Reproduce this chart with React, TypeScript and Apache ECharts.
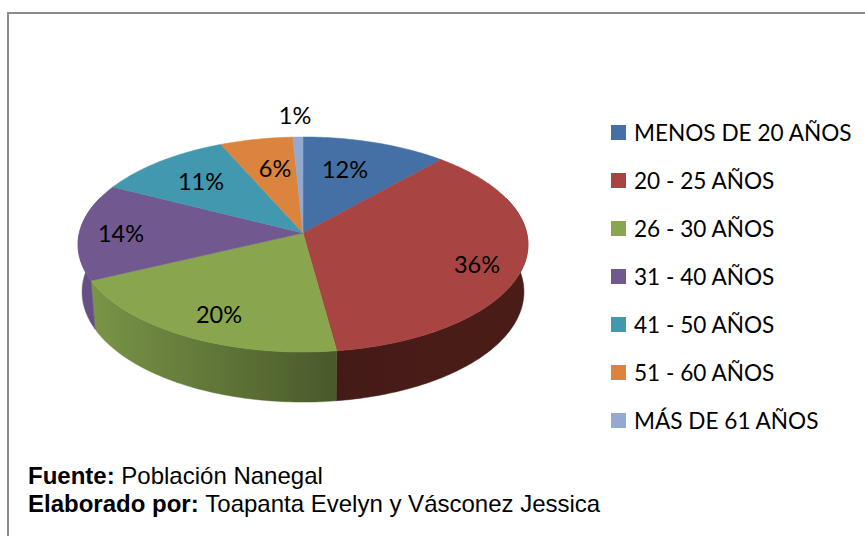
import React, { useEffect, useRef } from "react";
import * as echarts from "echarts";

const categories = ["MENOS DE 20 AÑOS", "20 - 25 AÑOS", "26 - 30 AÑOS", "31 - 40 AÑOS", "41 - 50 AÑOS", "51 - 60 AÑOS", "MÁS DE 61 AÑOS"];
const values = [11.6, 36.2, 20.1, 14.5, 10.9, 5.8, 0.8];
const percentLabels = ["12%", "36%", "20%", "14%", "11%", "6%", "1%"];
const colors = ["#4470a6", "#a84442", "#89a54e", "#71588f", "#4198af", "#db843d", "#93a9cf"];
const labelOffsets = [[42, -64], [174, 31], [-84, 81], [-182, 0], [-102, -52], [-28, -65], [-8, -118]];
const FOOT_1 = ["Fuente:", "Población Nanegal"];
const FOOT_2 = ["Elaborado por:", "Toapanta Evelyn y Vásconez Jessica"];

const total = values.reduce((a, b) => a + b, 0);
const AX = 303, AY = 233, R = 223.7, B = 106.3, K = 0.107, DEPTH = 50;

function rim(deg: number): [number, number] {
  const t = (deg * Math.PI) / 180;
  const u = Math.sin(t), v = -Math.cos(t);
  const w = 1 - K * v;
  return [AX + (R * u) / w, AY + (B * v) / w];
}
function rimLow(deg: number): [number, number] {
  const [x, y] = rim(deg);
  const v = -Math.cos((deg * Math.PI) / 180);
  return [AX + (x - AX) * 0.982, y + DEPTH - 3 + 3 * Math.max(v, 0)];
}
function bounds(i: number): [number, number] {
  const before = values.slice(0, i).reduce((a, b) => a + b, 0);
  return [(before / total) * 360, ((before + values[i]) / total) * 360];
}
function arcAngles(a: number, b: number): number[] {
  const out: number[] = [];
  const n = Math.max(2, Math.ceil(b - a));
  for (let j = 0; j <= n; j++) out.push(a + ((b - a) * j) / n);
  return out;
}

function wallFill(i: number) {
  const stops: Record<number, [string, string]> = {
    1: ["#441a17", "#4a1c18"],
    2: ["#7a9447", "#48592a"],
    3: ["#654f84", "#654f84"],
  };
  const s = stops[i] || [colors[i], colors[i]];
  const a = bounds(i);
  const x0 = Math.min(rim(a[0])[0], rim(a[1])[0]);
  const x1 = Math.max(rim(a[0])[0], rim(a[1])[0]);
  return {
    type: "linear", global: true, x: x0, y: 0, x2: x1, y2: 0,
    colorStops: [{ offset: 0, color: s[0] }, { offset: 1, color: s[1] }],
  };
}

const wallItem = (params: any) => {
  const i = params.dataIndex;
  const [a0, b0] = bounds(i);
  const a = Math.max(a0, 70), b = Math.min(b0, 290);
  if (b <= a) return { type: "group", children: [] };
  const fill = wallFill(i);
  const angles = arcAngles(a, b);
  const pts = [...angles.map(rim), ...angles.slice().reverse().map(rimLow)];
  return { type: "polygon", shape: { points: pts }, style: { fill, stroke: fill, lineWidth: 0.5 } };
};

const topItem = (i: number) => (_p: any, api: any) => {
  if (!(api.value(0) > 0)) return { type: "group", children: [] };
  const [a, b] = bounds(i);
  const pts = [[AX, AY], ...arcAngles(a, b).map(rim)];
  const [dx, dy] = labelOffsets[i];
  return {
    type: "group",
    children: [
      { type: "polygon", shape: { points: pts }, style: { fill: colors[i], stroke: colors[i], lineWidth: 0.5 } },
      {
        type: "text", z2: 10, x: AX + dx, y: AY + dy,
        style: { text: percentLabels[i], fill: "#000", font: '23.5px Lato', align: "center", verticalAlign: "middle" },
      },
    ],
  };
};

const footer = (a: string[], y: number) => ({
  type: "text", left: 28, top: y,
  style: {
    text: `{b|${a[0]}} {n|${a[1]}}`,
    rich: {
      b: { fontFamily: "Liberation Sans", fontSize: 24, fontWeight: "bold", fill: "#000", lineHeight: 28 },
      n: { fontFamily: "Liberation Sans", fontSize: 24, fill: "#000", lineHeight: 28 },
    },
    font: '24px "Liberation Sans"', fill: "#000",
  },
});

export default function App() {
  const ref = useRef<HTMLDivElement>(null);
  useEffect(() => {
    const chart = echarts.init(ref.current!, null, { renderer: "svg" });
    chart.setOption({
      animation: false,
      backgroundColor: "#ffffff",
      legend: {
        orient: "vertical", left: 611, top: 121, padding: 0,
        data: categories, icon: "rect", itemWidth: 15, itemHeight: 15, itemGap: 25,
        textStyle: { fontFamily: "Lato", fontSize: 22.6, color: "#000", lineHeight: 15, padding: [0, 0, 0, 3] },
        selectedMode: false,
      },
      series: [
        {
          type: "custom", name: "walls", coordinateSystem: "none", z: 2, silent: true,
          data: values.map((v) => [v]), renderItem: wallItem,
        },
        ...categories.map((name, i) => ({
          type: "custom", name, coordinateSystem: "none", z: 3, silent: true,
          itemStyle: { color: colors[i] },
          data: [[values[i]]], renderItem: topItem(i),
        })),
      ],
      graphic: [
        { type: "line", shape: { x1: 8, y1: 13, x2: 865, y2: 13 }, style: { stroke: "#8c8c8c", lineWidth: 2 } },
        { type: "line", shape: { x1: 8, y1: 12, x2: 8, y2: 536 }, style: { stroke: "#8c8c8c", lineWidth: 2 } },
        footer(FOOT_1, 463),
        footer(FOOT_2, 491),
      ],
    });
    return () => chart.dispose();
  }, []);
  return <div ref={ref} style={{ position: "fixed", left: 0, top: 0, width: 865, height: 536 }} />;
}
